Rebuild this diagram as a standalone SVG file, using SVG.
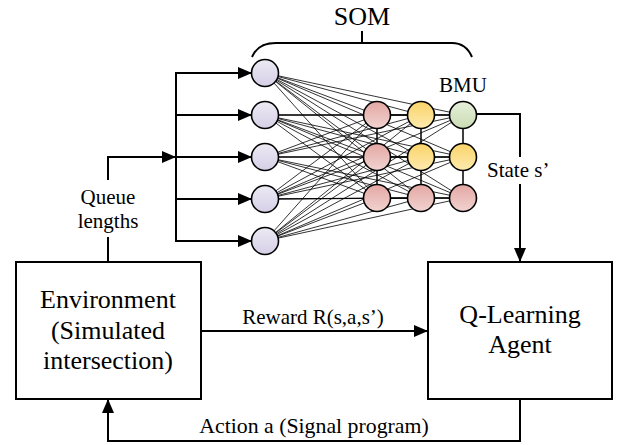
<svg xmlns="http://www.w3.org/2000/svg" width="617" height="445" viewBox="0 0 617 445">
<defs>
<marker id="arr" markerUnits="userSpaceOnUse" markerWidth="14" markerHeight="12" refX="14" refY="6" orient="auto"><path d="M0,0 L14,6 L0,12 z" fill="#000"/></marker>
<linearGradient id="gIn" x1="0" y1="0" x2="0" y2="1"><stop offset="0" stop-color="#eceaf4"/><stop offset="1" stop-color="#d6cfe6"/></linearGradient>
<linearGradient id="gRed" x1="0" y1="0" x2="0" y2="1"><stop offset="0" stop-color="#e3a7a3"/><stop offset="1" stop-color="#f1d3d0"/></linearGradient>
<linearGradient id="gYel" x1="0" y1="0" x2="0" y2="1"><stop offset="0" stop-color="#fbd46a"/><stop offset="1" stop-color="#fdeaae"/></linearGradient>
<linearGradient id="gGrn" x1="0" y1="0" x2="0" y2="1"><stop offset="0" stop-color="#e6efd9"/><stop offset="1" stop-color="#cadcb4"/></linearGradient>
</defs>
<style>
text{font-family:'Liberation Serif','Times New Roman',serif;fill:#000}
.s{font-size:21px}
.b{font-size:26px}
.ln{fill:none;stroke:#000;stroke-width:2}
.mesh{stroke:#000;stroke-width:0.8;fill:none}
.nd{stroke:#000;stroke-width:1.6}
.box{fill:#fff;stroke:#000;stroke-width:2}
</style>

<g id="connectors">
<path class="ln" d="M252,57 Q258,43 276,43 L452,43 Q466,43 472,57" stroke-width="1.5"/>
<line class="ln" x1="362" y1="43" x2="362" y2="31" stroke-width="1.5"/>
<polyline class="ln" points="108,262 108,237"/>
<polyline class="ln" points="108,180 108,157 176,157" marker-end="url(#arr)"/>
<line class="ln" x1="176" y1="72" x2="176" y2="242"/>
<line class="ln" x1="176" y1="73" x2="252" y2="73" marker-end="url(#arr)"/>
<line class="ln" x1="176" y1="115" x2="252" y2="115" marker-end="url(#arr)"/>
<line class="ln" x1="176" y1="157" x2="252" y2="157" marker-end="url(#arr)"/>
<line class="ln" x1="176" y1="199" x2="252" y2="199" marker-end="url(#arr)"/>
<line class="ln" x1="176" y1="241" x2="252" y2="241" marker-end="url(#arr)"/>
<polyline class="ln" points="463,114 520,114 520,157"/>
<line class="ln" x1="520" y1="184" x2="520" y2="262" marker-end="url(#arr)"/>
<line class="ln" x1="201" y1="331" x2="428" y2="331" marker-end="url(#arr)"/>
<polyline class="ln" points="520,399 520,441 108,441 108,399" marker-end="url(#arr)"/>
<g class="mesh">
<path d="M265,73 L377,115 M265,73 L421,115 M265,73 L463,115 M265,73 L377,157 M265,73 L421,157 M265,73 L463,157 M265,73 L377,198 M265,73 L421,198 M265,73 L463,198"/>
<path d="M265,115 L377,115 M265,115 L421,115 M265,115 L463,115 M265,115 L377,157 M265,115 L421,157 M265,115 L463,157 M265,115 L377,198 M265,115 L421,198 M265,115 L463,198"/>
<path d="M265,157 L377,115 M265,157 L421,115 M265,157 L463,115 M265,157 L377,157 M265,157 L421,157 M265,157 L463,157 M265,157 L377,198 M265,157 L421,198 M265,157 L463,198"/>
<path d="M265,199 L377,115 M265,199 L421,115 M265,199 L463,115 M265,199 L377,157 M265,199 L421,157 M265,199 L463,157 M265,199 L377,198 M265,199 L421,198 M265,199 L463,198"/>
<path d="M265,241 L377,115 M265,241 L421,115 M265,241 L463,115 M265,241 L377,157 M265,241 L421,157 M265,241 L463,157 M265,241 L377,198 M265,241 L421,198 M265,241 L463,198"/>
</g>
<path d="M377,115 V198 M421,115 V198 M463,115 V198 M377,115 H463 M377,157 H463 M377,198 H463" stroke="#000" stroke-width="1.5" fill="none"/>
</g>

<g id="som-label">
<text x="362" y="25" text-anchor="middle" font-size="26">SOM</text>
</g>

<g id="inputs">
<circle class="nd" cx="265" cy="73" r="13.5" fill="url(#gIn)"/>
<circle class="nd" cx="265" cy="115" r="13.5" fill="url(#gIn)"/>
<circle class="nd" cx="265" cy="157" r="13.5" fill="url(#gIn)"/>
<circle class="nd" cx="265" cy="199" r="13.5" fill="url(#gIn)"/>
<circle class="nd" cx="265" cy="241" r="13.5" fill="url(#gIn)"/>
</g>

<g id="som-grid">
<circle class="nd" cx="377" cy="115" r="13.5" fill="url(#gRed)"/>
<circle class="nd" cx="421" cy="115" r="13.5" fill="url(#gYel)"/>
<circle class="nd" cx="463" cy="115" r="13.5" fill="url(#gGrn)"/>
<circle class="nd" cx="377" cy="157" r="13.5" fill="url(#gRed)"/>
<circle class="nd" cx="421" cy="157" r="13.5" fill="url(#gYel)"/>
<circle class="nd" cx="463" cy="157" r="13.5" fill="url(#gYel)"/>
<circle class="nd" cx="377" cy="198" r="13.5" fill="url(#gRed)"/>
<circle class="nd" cx="421" cy="198" r="13.5" fill="url(#gRed)"/>
<circle class="nd" cx="463" cy="198" r="13.5" fill="url(#gRed)"/>
</g>

<g id="labels">
<text class="s" x="463" y="92" text-anchor="middle">BMU</text>
<text class="s" x="487" y="177" font-size="22">State s’</text>
<text class="s" x="108" y="204" text-anchor="middle">Queue</text>
<text class="s" x="108" y="228" text-anchor="middle">lengths</text>
<text class="s" x="313" y="324" text-anchor="middle">Reward R(s,a,s’)</text>
<text x="314" y="433" text-anchor="middle" font-size="21.8">Action a (Signal program)</text>
</g>

<g id="environment">
<rect class="box" x="16" y="262" width="185" height="137"/>
<text class="b" x="108" y="308" text-anchor="middle">Environment</text>
<text class="b" x="108" y="339" text-anchor="middle">(Simulated</text>
<text class="b" x="108" y="369" text-anchor="middle">intersection)</text>
</g>

<g id="agent">
<rect class="box" x="428" y="262" width="184" height="137"/>
<text class="b" x="520" y="323" text-anchor="middle">Q-Learning</text>
<text class="b" x="520" y="353" text-anchor="middle">Agent</text>
</g>
</svg>
